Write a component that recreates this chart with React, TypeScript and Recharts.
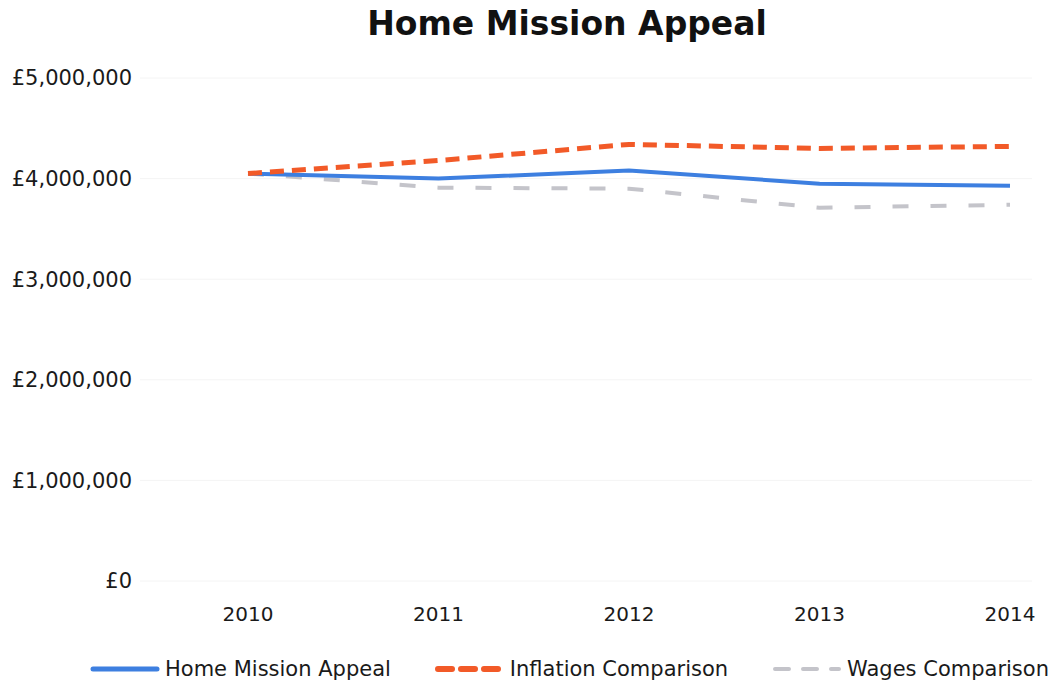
import { LineChart, Line, XAxis, YAxis, CartesianGrid, Legend } from 'recharts';

const years = ['2010', '2011', '2012', '2013', '2014'];
const homeMission = [4050000, 4000000, 4080000, 3950000, 3930000];
const inflation = [4050000, 4180000, 4340000, 4300000, 4320000];
const wages = [4050000, 3910000, 3900000, 3710000, 3740000];
const yTicks = [0, 1000000, 2000000, 3000000, 4000000, 5000000];

const data = years.map((year, i) => ({
    year,
    home: homeMission[i],
    inflation: inflation[i],
    wages: wages[i],
}));

const font = '"DejaVu Sans", Verdana, sans-serif';

const formatPounds = (v: number) => '£' + v.toLocaleString('en-GB');

const legendItems = [
    { label: 'Home Mission Appeal', color: '#3d7fe0', dash: undefined, width: 5 },
    { label: 'Inflation Comparison', color: '#f25a28', dash: '14 9', width: 6 },
    { label: 'Wages Comparison', color: '#c4c4ca', dash: '14 14', width: 4 },
];

const ChartLegend = () => (
    <div style={{
        display: 'flex', alignItems: 'center', flexWrap: 'nowrap', whiteSpace: 'nowrap', width: 1052,
        marginLeft: 90, marginTop: 14, fontFamily: font, fontSize: 21, color: '#1a1a1a',
    }}>
        {legendItems.map((item) => (
            <div key={item.label} style={{ display: 'flex', alignItems: 'center', marginRight: 44, flexShrink: 0 }}>
                <svg width={70} height={10} style={{ marginRight: 5 }}>
                    <line x1={3} y1={5} x2={67} y2={5} stroke={item.color} strokeWidth={item.width}
                          strokeDasharray={item.dash} strokeLinecap="round" />
                </svg>
                <span>{item.label}</span>
            </div>
        ))}
    </div>
);

export default function App() {
    return (
        <div style={{ position: 'absolute', left: 0, top: 0, width: 1052, height: 683, background: '#fff', overflow: 'hidden' }}>
            <div style={{
                position: 'absolute', left: 0, top: 4, width: 1134, textAlign: 'center',
                fontFamily: font, fontWeight: 'bold', fontSize: 33, color: '#111',
            }}>
                Home Mission Appeal
            </div>
            <LineChart width={1052} height={683} data={data} margin={{ top: 78, right: 20, left: 0, bottom: 0 }}>
                <CartesianGrid vertical={false} stroke="#f4f4f4" />
                <XAxis dataKey="year" axisLine={false} tickLine={false} height={62} tickMargin={20}
                       padding={{ left: 108, right: 22 }}
                       tick={{ fontFamily: font, fontSize: 20, fill: '#1a1a1a' }} />
                <YAxis width={140} domain={[0, 5000000]} ticks={yTicks} axisLine={false} tickLine={false}
                       tickFormatter={formatPounds}
                       tick={{ fontFamily: font, fontSize: 21, fill: '#1a1a1a' }} />
                <Legend verticalAlign="bottom" height={40} content={() => <ChartLegend />} />
                <Line type="linear" dataKey="wages" stroke="#c4c4ca" strokeWidth={4} strokeDasharray="16 22"
                      dot={false} isAnimationActive={false} />
                <Line type="linear" dataKey="home" stroke="#3d7fe0" strokeWidth={4}
                      dot={false} isAnimationActive={false} />
                <Line type="linear" dataKey="inflation" stroke="#f25a28" strokeWidth={5} strokeDasharray="14 8"
                      dot={false} isAnimationActive={false} />
            </LineChart>
        </div>
    );
}
